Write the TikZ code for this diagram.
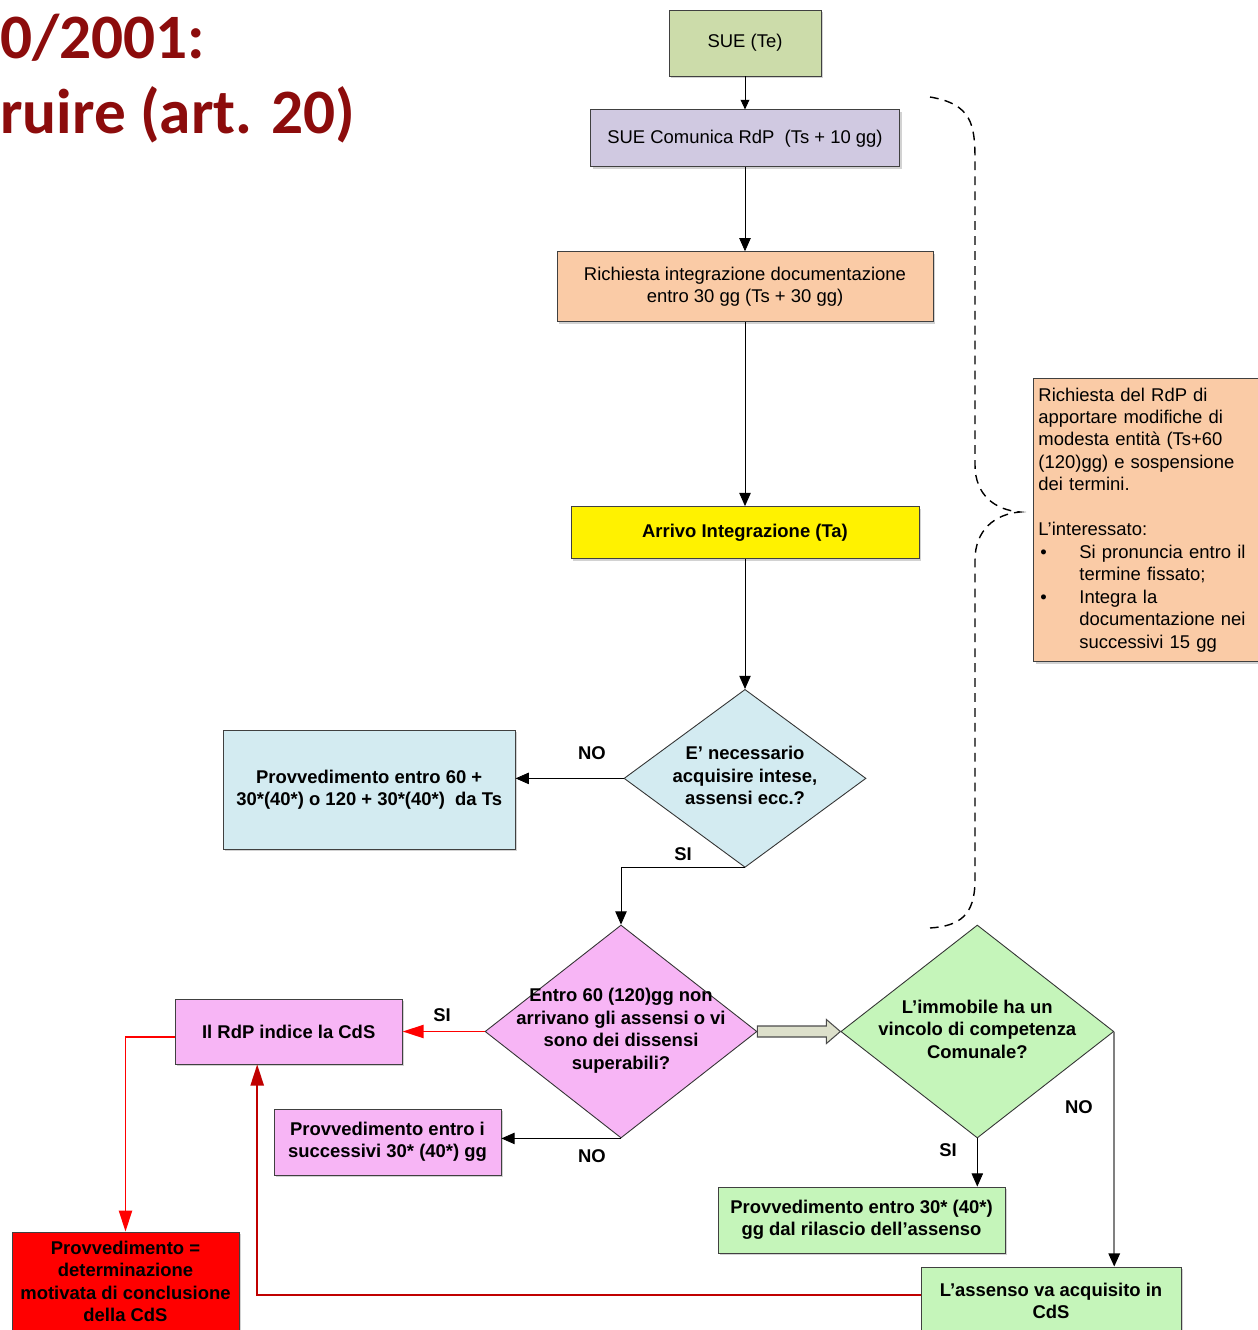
\documentclass[tikz,border=0pt]{standalone}
\usepackage{fontspec}
\setmainfont{Liberation Sans}
\newfontfamily\titlefont{Carlito}
\usepackage{tikz}
\usetikzlibrary{arrows.meta,positioning,shapes.geometric,calc,shadows}
\definecolor{titlered}{HTML}{8C0C0C}
\definecolor{suegreen}{HTML}{CCDCAA}
\definecolor{lilac}{HTML}{D0C9E1}
\definecolor{peach}{HTML}{FACBA6}
\definecolor{paleblue}{HTML}{D3EBF1}
\definecolor{pinkq}{HTML}{F7B5F5}
\definecolor{mint}{HTML}{C5F5BA}
\definecolor{arrowred}{HTML}{C00000}
\definecolor{blockgray}{HTML}{DDE0CB}
\newcommand\txt{\fontsize{10.5pt}{12.8pt}\selectfont}
\newcommand\dtext[1]{\smash{\makebox[0pt]{\raisebox{-2.5pt}{\begin{tabular}{@{}c@{}}#1\end{tabular}}}}}
\tikzset{
  stepbox/.style={
    rectangle, draw=black!75, fill=#1, line width=0.5pt,
    font=\txt, align=center, inner sep=3pt,
    drop shadow={shadow xshift=1.2pt, shadow yshift=-1.2pt, fill=black!35}
  },
  stepbox/.default=white,
  boldbox/.style={stepbox=#1, font=\txt\bfseries},
  decision/.style={
    diamond, draw=black!80, fill=#1, line width=0.5pt,
    inner sep=0pt, font=\txt\bfseries
  },
  conn/.style={-{Triangle[length=7.5pt,width=6.5pt]}, line width=0.5pt},
  redconn/.style={-{Triangle[length=12pt,width=7.5pt]}, line width=1pt, color=#1},
  redconn/.default=red,
  lbl/.style={font=\txt\bfseries, inner sep=0pt},
  blockarrow/.style={draw=black!70, fill=blockgray, line width=0.6pt},
  bracepath/.style={dash pattern=on 5pt off 3.5pt, line width=0.8pt},
}
\begin{document}
\begin{tikzpicture}[x=0.02cm, y=-0.02cm]
  \path[use as bounding box, fill=white] (0,0) rectangle (1258,1330);

  % title (cut at the left border)
  \node[anchor=base west, inner sep=0pt, text=titlered,
        font=\titlefont\bfseries\fontsize{36pt}{40pt}\selectfont] (title1) at (0,58) {0/2001:};
  \node[anchor=base west, inner sep=0pt, text=titlered,
        font=\titlefont\bfseries\fontsize{36pt}{40pt}\selectfont] (title2) at (0,133) {ruire (art. 20)};

  % main column
  \node[stepbox=suegreen, minimum width=3.04cm, minimum height=1.32cm] (sue) at (745,43) {SUE (Te)};
  \node[stepbox=lilac, minimum width=6.18cm, minimum height=1.14cm, below=0.66cm of sue] (comunica)
    {SUE Comunica RdP\ \ (Ts + 10 gg)};
  \node[stepbox=peach, minimum width=7.52cm, minimum height=1.40cm, below=1.68cm of comunica] (richiesta)
    {Richiesta integrazione documentazione\\entro 30 gg (Ts + 30 gg)};
  \node[boldbox=yellow, minimum width=6.96cm, minimum height=1.04cm, below=3.68cm of richiesta] (arrivo)
    {Arrivo Integrazione (Ta)};
  \node[decision=paleblue, minimum width=4.84cm, minimum height=3.56cm, below=2.6cm of arrivo] (necess)
    {\dtext{E’ necessario\\acquisire intese,\\assensi ecc.?}};
  \node[boldbox=paleblue, minimum width=5.84cm, minimum height=2.38cm, left=2.16cm of necess, yshift=-0.23cm] (entro60)
    {Provvedimento entro 60 +\\30*(40*) o 120 + 30*(40*)\ \ da Ts};

  % lower decisions
  \node[decision=pinkq, minimum width=5.44cm, minimum height=4.26cm] (assensi) at (621,1031.5)
    {\dtext{Entro 60 (120)gg non\\arrivano gli assensi o vi\\sono dei dissensi\\superabili?}};
  \node[boldbox=pinkq, minimum width=4.54cm, minimum height=1.30cm, left=1.64cm of assensi] (indice)
    {Il RdP indice la CdS};
  \node[boldbox=pinkq, minimum width=4.54cm, minimum height=1.32cm] (succ) at (387.5,1142)
    {Provvedimento entro i\\successivi 30* (40*) gg};
  \node[decision=mint, minimum width=5.46cm, minimum height=4.26cm, right=1.66cm of assensi] (vincolo)
    {\dtext{L’immobile ha un\\vincolo di competenza\\Comunale?}};
  \node[boldbox=mint, minimum width=5.74cm, minimum height=1.32cm] (prov30) at (861.5,1220)
    {Provvedimento entro 30* (40*)\\gg dal rilascio dell’assenso};
  \node[boldbox=mint, minimum width=5.2cm, minimum height=1.36cm] (cds) at (1051,1301)
    {L’assenso va acquisito in\\CdS};
  \node[boldbox=red, minimum width=4.54cm, minimum height=1.98cm] (conclusione) at (125.5,1281.5)
    {Provvedimento =\\determinazione\\motivata di conclusione\\della CdS};

  % side note
  \node[stepbox=peach, anchor=north west, align=left, text width=4.5cm, inner xsep=0.1cm,
        minimum height=5.66cm] (nota) at (1033,378)
    {Richiesta del RdP di\\apportare modifiche di\\modesta entità (Ts+60\\(120)gg) e sospensione\\dei termini.\\[12.8pt]
     L’interessato:\\
     \makebox[0.82cm][l]{\hspace{0.04cm}•}Si pronuncia entro il\\\hspace*{0.82cm}termine fissato;\\
     \makebox[0.82cm][l]{\hspace{0.04cm}•}Integra la\\\hspace*{0.82cm}documentazione nei\\\hspace*{0.82cm}successivi 15 gg};

  % arrows
  \draw[conn, -{Triangle[length=5.5pt,width=5pt]}] (sue) -- (comunica);
  \draw[conn] (comunica) -- (richiesta);
  \draw[conn] (richiesta) -- (arrivo);
  \draw[conn] (arrivo) -- (necess);
  \draw[conn] (necess.west) -- (necess.west -| entro60.east);
  \draw[conn] (necess.south) -| (assensi.north);
  \draw[redconn] (assensi.west) -- (indice.east);
  \draw[conn] (assensi.south) -- (assensi.south -| succ.east);
  \draw[conn] (vincolo.south) -- (vincolo.south |- prov30.north);
  \draw[-{Triangle[length=7.5pt,width=6.5pt,color=black]}, line width=1pt, draw=black!50]
    (vincolo.east) -- (vincolo.east |- cds.north);
  \draw[redconn] ([yshift=-0.11cm]indice.west) -| (conclusione.north);
  \draw[redconn=arrowred] ([yshift=0.12cm]cds.west) -| ([xshift=-0.63cm]indice.south);
  \draw[blockarrow] ($(assensi.east)+(0,-5.5)$) -- ($(vincolo.west)+(-14,-5.5)$)
    -- ($(vincolo.west)+(-14,-12)$) -- (vincolo.west) -- ($(vincolo.west)+(-14,12)$)
    -- ($(vincolo.west)+(-14,5.5)$) -- ($(assensi.east)+(0,5.5)$) -- cycle;

  % labels
  \node[lbl] (no1) at (592,753) {NO};
  \node[lbl] (si1) at (683,854) {SI};
  \node[lbl] (si2) at (442,1015) {SI};
  \node[lbl] (no2) at (592,1156) {NO};
  \node[lbl] (si3) at (948,1150) {SI};
  \node[lbl] (no3) at (1079,1107) {NO};

  % dashed brace
  \draw[bracepath] (930,97) .. controls (972,104) and (975,125) .. (975,160) -- (975,465)
    .. controls (975,495) and (995,510) .. (1020,512)
    .. controls (995,514) and (975,530) .. (975,560) -- (975,880)
    .. controls (975,915) and (960,926) .. (930,928);
\end{tikzpicture}
\end{document}
